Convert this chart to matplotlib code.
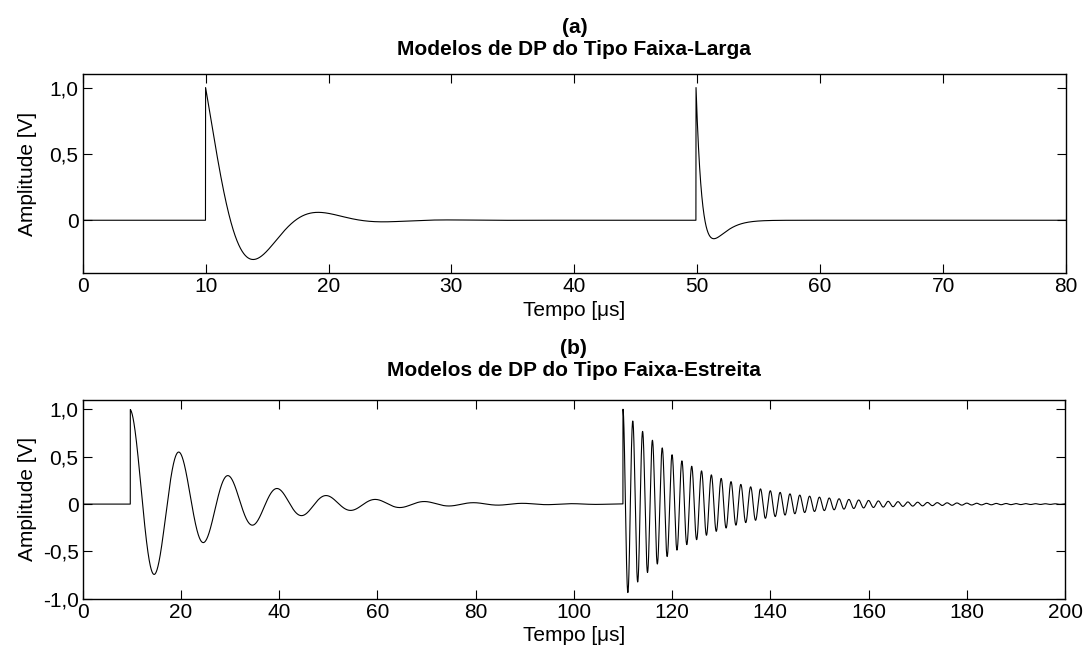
import numpy as np
import matplotlib
matplotlib.use("Agg")
import matplotlib.pyplot as plt

plt.rcParams['font.family'] = ['Liberation Sans', 'DejaVu Sans']

# pulse parameters (times in microseconds)
# model: v = A * exp(-t/tau) * (cos(w t) - b * sin(w t)/w), t measured from onset
wide_onset = [10.0, 49.9]
wide_amp = [1.0, 1.0]
wide_tau = [3.3, 0.73]
wide_w = [0.594, 0.0]
wide_b = [0.231, 1.389]

narrow_onset = [9.7, 110.0]
narrow_amp = [1.0, 1.0]
narrow_tau = [16.6, 15.3]
narrow_period = [10.0, 2.0]

xticks_a = [0, 10, 20, 30, 40, 50, 60, 70, 80]
yticks_a = [0, 0.5, 1.0]
ylabels_a = ['0', '0,5', '1,0']
xticks_b = [0, 20, 40, 60, 80, 100, 120, 140, 160, 180, 200]
yticks_b = [-1.0, -0.5, 0, 0.5, 1.0]
ylabels_b = ['-1,0', '-0,5', '0', '0,5', '1,0']


def pulse(t, t0, amp, tau, w, b):
    s = t - t0
    on = s >= 0
    s = np.where(on, s, 0.0)
    v = amp * np.exp(-s / tau) * (np.cos(w * s) - b * s * np.sinc(w * s / np.pi))
    return np.where(on, v, 0.0)


def style(ax, xlim, ylim, xticks, yticks, ylabels):
    ax.set_xlim(*xlim)
    ax.set_ylim(*ylim)
    ax.set_xticks(xticks)
    ax.set_xticklabels([str(x) for x in xticks])
    ax.set_yticks(yticks)
    ax.set_yticklabels(ylabels)
    ax.tick_params(direction='in', length=6.5, width=0.8, labelsize=15,
                   top=True, right=True, pad=3)
    for sp in ax.spines.values():
        sp.set_linewidth(1.0)
    ax.set_xlabel('Tempo [\u03bcs]', fontsize=15, labelpad=3)
    ax.set_ylabel('Amplitude [V]', fontsize=15)
    ax.yaxis.set_label_coords(-0.0465, 0.5)


fig = plt.figure(figsize=(10.85, 6.5), dpi=100)
ax1 = fig.add_axes([0.0762, 0.5795, 0.9063, 0.3062])
ax2 = fig.add_axes([0.0762, 0.0789, 0.9054, 0.3057])

t1 = np.arange(0, 80.0001, 0.01)
v1 = np.zeros_like(t1)
for i in range(len(wide_onset)):
    v1 += pulse(t1, wide_onset[i], wide_amp[i], wide_tau[i], wide_w[i], wide_b[i])
ax1.plot(t1, v1, color='black', lw=0.8)
style(ax1, (0, 80), (-0.4, 1.1), xticks_a, yticks_a, ylabels_a)
ax1.set_title('(a)\nModelos de DP do Tipo Faixa-Larga', fontsize=15,
              fontweight='bold', pad=14)

t2 = np.arange(0, 200.0001, 0.01)
v2 = np.zeros_like(t2)
for i in range(len(narrow_onset)):
    v2 += pulse(t2, narrow_onset[i], narrow_amp[i], narrow_tau[i],
                2 * np.pi / narrow_period[i], 0.0)
ax2.plot(t2, v2, color='black', lw=0.8)
style(ax2, (0, 200), (-1.0, 1.1), xticks_b, yticks_b, ylabels_b)
ax2.set_title('(b)\nModelos de DP do Tipo Faixa-Estreita', fontsize=15,
              fontweight='bold', pad=17)

fig.savefig('out.png', dpi=100)
